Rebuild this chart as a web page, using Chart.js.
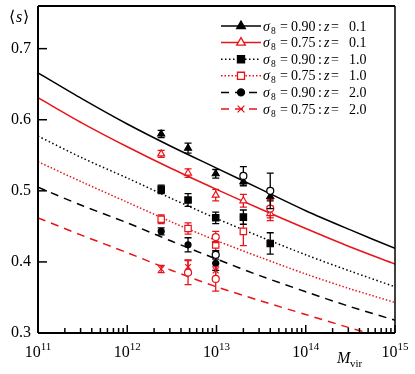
<!DOCTYPE html>
<html>
<head>
<meta charset="utf-8">
<script src="https://cdn.jsdelivr.net/npm/chart.js@4.4.1/dist/chart.umd.min.js"></script>
<style>
body { margin: 0; background: #fff; }
#wrap { width: 415px; height: 374px; position: relative; }
</style>
</head>
<body>
<div id="wrap"><canvas id="chart"></canvas></div>
<script>
// model curves, sampled every half decade in M_vir
const curveMass = [1e11, 3.162e11, 1e12, 3.162e12, 1e13, 3.162e13, 1e14, 3.162e14, 1e15];
const curve90z01 = [0.666, 0.629, 0.594, 0.562, 0.532, 0.502, 0.472, 0.445, 0.419];
const curve75z01 = [0.631, 0.595, 0.562, 0.531, 0.502, 0.474, 0.447, 0.421, 0.397];
const curve90z10 = [0.577, 0.546, 0.518, 0.489, 0.461, 0.435, 0.410, 0.387, 0.365];
const curve75z10 = [0.541, 0.512, 0.484, 0.456, 0.430, 0.406, 0.383, 0.362, 0.343];
const curve90z20 = [0.505, 0.479, 0.455, 0.429, 0.404, 0.380, 0.358, 0.337, 0.318];
const curve75z20 = [0.462, 0.437, 0.413, 0.388, 0.365, 0.345, 0.326, 0.307, 0.290];

// measured points (mass bins)
const binMass = [2.4e12, 4.8e12, 9.8e12, 2.0e13, 4.0e13];
const pts90z01 = [0.580, 0.560, 0.524, 0.513, 0.492];
const err90z01 = [0.005, 0.007, 0.006, 0.006, 0.006];
const pts75z01 = [0.552, 0.525, 0.494, 0.486, 0.468];
const err75z01 = [0.005, 0.006, 0.008, 0.009, 0.010];
const pts90z10 = [0.502, 0.487, 0.462, 0.463, 0.426];
const err90z10 = [0.006, 0.009, 0.008, 0.010, 0.015];
const pts75z10 = [0.460, 0.447, 0.424, 0.443, null];
const err75z10 = [0.006, 0.008, 0.009, 0.020, 0];
const pts90z20 = [0.443, 0.424, 0.398, null, null];
const err90z20 = [0.005, 0.010, 0.010, 0, 0];
const pts75z20 = [0.390, 0.393, 0.388, null, null];
const err75z20 = [0.005, 0.010, 0.010, 0, 0];

// open circles (no legend entry)
const openBlackMass = [9.8e12, 2.0e13, 4.0e13];
const openBlackS = [0.410, 0.521, 0.500];
const openBlackErr = [0.006, 0.013, 0.025];
const openRedMass = [4.8e12, 9.8e12, 9.8e12, 4.0e13];
const openRedS = [0.385, 0.376, 0.435, 0.475];
const openRedErr = [0.017, 0.017, 0.008, 0.013];

const yTicks = [0.3, 0.4, 0.5, 0.6, 0.7];
const xTickExps = [11, 12, 13, 14, 15];
const legendSigma = ['0.90', '0.75', '0.90', '0.75', '0.90', '0.75'];
const legendZ = ['0.1', '0.1', '1.0', '1.0', '2.0', '2.0'];

const BLACK = '#000000';
const RED = '#e8141a';
const SERIF = '"Liberation Serif", "Times New Roman", serif';

function toXY(xs, ys) {
    return xs.map((x, i) => ({ x: x, y: ys[i] }));
}

function curveSet(ys, color, dash) {
    return {
        data: toXY(curveMass, ys), borderColor: color, borderWidth: 1.5,
        borderDash: dash, pointRadius: 0, tension: 0.3, fill: false, order: 2
    };
}

function pointSet(xs, ys, errs, color, style, filled, radius) {
    return {
        data: toXY(xs, ys), errors: errs, showLine: false,
        borderColor: color, pointBorderColor: color,
        pointBackgroundColor: filled ? color : '#ffffff',
        pointStyle: style, pointRadius: radius, pointBorderWidth: 1.2, order: 1
    };
}

function drawMarker(ctx, style, x, y, r, color, filled) {
    ctx.save();
    ctx.strokeStyle = color;
    ctx.fillStyle = filled ? color : '#ffffff';
    ctx.lineWidth = 1.3;
    ctx.setLineDash([]);
    ctx.beginPath();
    if (style === 'triangle') {
        ctx.moveTo(x, y - r);
        ctx.lineTo(x + r * 0.866, y + r * 0.5);
        ctx.lineTo(x - r * 0.866, y + r * 0.5);
        ctx.closePath();
        ctx.fill(); ctx.stroke();
    } else if (style === 'rect') {
        const s = r * Math.SQRT1_2;
        ctx.rect(x - s, y - s, 2 * s, 2 * s);
        ctx.fill(); ctx.stroke();
    } else if (style === 'circle') {
        ctx.arc(x, y, r, 0, Math.PI * 2);
        ctx.fill(); ctx.stroke();
    } else if (style === 'crossRot') {
        const d = r * 0.75;
        ctx.moveTo(x - d, y - d); ctx.lineTo(x + d, y + d);
        ctx.moveTo(x - d, y + d); ctx.lineTo(x + d, y - d);
        ctx.stroke();
    }
    ctx.restore();
}

const legendRows = [
    { color: BLACK, dash: [], style: 'triangle', filled: true, r: 5 },
    { color: RED, dash: [], style: 'triangle', filled: false, r: 5 },
    { color: BLACK, dash: [1.5, 2.5], style: 'rect', filled: true, r: 5 },
    { color: RED, dash: [1.5, 2], style: 'rect', filled: false, r: 5 },
    { color: BLACK, dash: [8, 6], style: 'circle', filled: true, r: 3.5 },
    { color: RED, dash: [8, 6], style: 'crossRot', filled: false, r: 4.5 }
];

const errorBars = {
    id: 'errorBars',
    beforeDatasetDraw(chart, args) {
        const ds = chart.data.datasets[args.index];
        if (!ds.errors) return;
        const ctx = chart.ctx;
        const yScale = chart.scales.y;
        ctx.save();
        ctx.beginPath();
        ctx.rect(chart.chartArea.left, chart.chartArea.top, chart.chartArea.right - chart.chartArea.left, chart.chartArea.bottom - chart.chartArea.top);
        ctx.clip();
        ctx.strokeStyle = ds.borderColor;
        ctx.lineWidth = 1.3;
        args.meta.data.forEach((pt, j) => {
            const v = ds.data[j].y;
            const e = ds.errors[j];
            if (v === null || !e) return;
            const top = yScale.getPixelForValue(v + e);
            const bot = yScale.getPixelForValue(v - e);
            ctx.beginPath();
            ctx.moveTo(pt.x, top); ctx.lineTo(pt.x, bot);
            ctx.moveTo(pt.x - 3.5, top); ctx.lineTo(pt.x + 3.5, top);
            ctx.moveTo(pt.x - 3.5, bot); ctx.lineTo(pt.x + 3.5, bot);
            ctx.stroke();
        });
        ctx.restore();
    }
};

const frame = {
    id: 'frame',
    afterDraw(chart) {
        const ctx = chart.ctx;
        const a = chart.chartArea;
        const xs = chart.scales.x;
        const ys = chart.scales.y;
        ctx.save();
        ctx.strokeStyle = '#000';
        ctx.fillStyle = '#000';
        ctx.setLineDash([]);

        // box
        ctx.lineWidth = 2;
        ctx.beginPath();
        ctx.moveTo(a.left, a.top); ctx.lineTo(a.right, a.top);
        ctx.moveTo(a.left, a.top); ctx.lineTo(a.left, a.bottom);
        ctx.moveTo(a.left, a.bottom); ctx.lineTo(a.right, a.bottom);
        ctx.stroke();
        ctx.lineWidth = 1.5;
        ctx.beginPath();
        ctx.moveTo(a.right, a.top); ctx.lineTo(a.right, a.bottom);
        ctx.stroke();

        // y ticks and labels
        ctx.lineWidth = 1.5;
        ctx.font = '16px ' + SERIF;
        ctx.textAlign = 'right';
        ctx.textBaseline = 'middle';
        yTicks.forEach(v => {
            const py = ys.getPixelForValue(v);
            ctx.beginPath();
            ctx.moveTo(a.left, py); ctx.lineTo(a.left + 9, py);
            ctx.stroke();
            ctx.fillText(v.toFixed(1), 31, py);
        });

        // x ticks, major and minor
        xTickExps.forEach(p => {
            const px = xs.getPixelForValue(Math.pow(10, p));
            ctx.beginPath();
            ctx.moveTo(px, a.bottom); ctx.lineTo(px, a.bottom - 8);
            ctx.stroke();
            if (p < 15) {
                for (let k = 2; k <= 9; k++) {
                    const mx = xs.getPixelForValue(k * Math.pow(10, p));
                    ctx.beginPath();
                    ctx.moveTo(mx, a.bottom); ctx.lineTo(mx, a.bottom - 5);
                    ctx.stroke();
                }
            }
            // label 10^p
            ctx.textBaseline = 'alphabetic';
            ctx.textAlign = 'left';
            ctx.font = '16px ' + SERIF;
            const w1 = ctx.measureText('10').width;
            ctx.font = '11px ' + SERIF;
            const w2 = ctx.measureText(String(p)).width;
            const x0 = px - (w1 + w2) / 2;
            ctx.font = '16px ' + SERIF;
            ctx.fillText('10', x0, 357);
            ctx.font = '11px ' + SERIF;
            ctx.fillText(String(p), x0 + w1, 350);
        });

        // axis titles
        ctx.textAlign = 'left';
        ctx.textBaseline = 'alphabetic';
        ctx.font = '16px ' + SERIF;
        ctx.fillText('\u27E8', 9, 22);
        ctx.font = 'italic 16px ' + SERIF;
        ctx.fillText('s', 16, 22);
        ctx.font = '16px ' + SERIF;
        ctx.fillText('\u27E9', 23, 22);

        ctx.font = 'italic 16px ' + SERIF;
        ctx.fillText('M', 337, 363);
        ctx.font = '11px ' + SERIF;
        ctx.fillText('vir', 350, 367);

        // legend
        legendRows.forEach((row, i) => {
            const y = 26 + i * 16.6;
            ctx.save();
            ctx.strokeStyle = row.color;
            ctx.lineWidth = 1.5;
            ctx.setLineDash(row.dash);
            ctx.beginPath();
            ctx.moveTo(221, y); ctx.lineTo(261, y);
            ctx.stroke();
            ctx.restore();
            drawMarker(ctx, row.style, 241, y, row.r, row.color, row.filled);

            const b = y + 4.5;
            ctx.fillStyle = '#000';
            ctx.font = 'italic 14px ' + SERIF;
            ctx.fillText('\u03C3', 263, b);
            ctx.font = '9.5px ' + SERIF;
            ctx.fillText('8', 271, b + 3);
            ctx.font = '14px ' + SERIF;
            ctx.fillText('=', 280, b);
            ctx.fillText(legendSigma[i], 291, b);
            ctx.fillText(':', 318, b);
            ctx.font = 'italic 14px ' + SERIF;
            ctx.fillText('z', 324, b);
            ctx.font = '14px ' + SERIF;
            ctx.fillText('=', 331, b);
            ctx.fillText(legendZ[i], 349, b);
        });
        ctx.restore();
    }
};

new Chart(document.getElementById('chart'), {
    type: 'line',
    data: {
        datasets: [
            curveSet(curve90z01, BLACK, []),
            curveSet(curve75z01, RED, []),
            curveSet(curve90z10, BLACK, [1.5, 2.5]),
            curveSet(curve75z10, RED, [1.5, 2]),
            curveSet(curve90z20, BLACK, [8, 6]),
            curveSet(curve75z20, RED, [8, 6]),
            pointSet(openBlackMass, openBlackS, openBlackErr, BLACK, 'circle', false, 3.5),
            pointSet(openRedMass, openRedS, openRedErr, RED, 'circle', false, 3.5),
            pointSet(binMass, pts90z01, err90z01, BLACK, 'triangle', true, 4),
            pointSet(binMass, pts75z01, err75z01, RED, 'triangle', false, 4),
            pointSet(binMass, pts90z10, err90z10, BLACK, 'rect', true, 4.5),
            pointSet(binMass, pts75z10, err75z10, RED, 'rect', false, 4.5),
            pointSet(binMass, pts90z20, err90z20, BLACK, 'circle', true, 3),
            pointSet(binMass, pts75z20, err75z20, RED, 'crossRot', false, 4)
        ]
    },
    options: {
        responsive: true,
        maintainAspectRatio: false,
        animation: false,
        layout: { padding: { left: 38, right: 20, top: 6, bottom: 41 } },
        plugins: { legend: { display: false }, tooltip: { enabled: false } },
        scales: {
            x: { type: 'logarithmic', min: 1e11, max: 1e15, display: false },
            y: { type: 'linear', min: 0.3, max: 0.76, display: false }
        }
    },
    plugins: [errorBars, frame]
});
</script>
</body>
</html>
